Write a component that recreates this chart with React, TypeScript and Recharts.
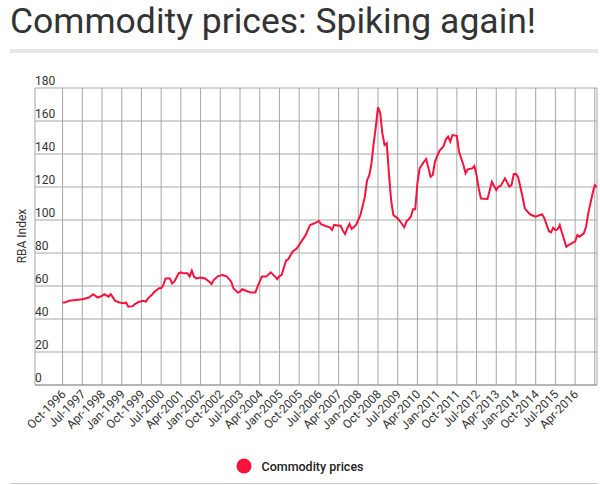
import { LineChart, Line, XAxis, YAxis, CartesianGrid, Legend } from 'recharts';

// months since Oct-1996
const monthIndex = [
  0, 1, 3, 6, 9, 12, 14, 16, 18, 19, 21, 22, 24, 26, 28, 29, 30, 32, 33, 35, 37, 38, 39, 41, 42, 44, 45,
  46, 47, 49, 50, 51, 53, 54, 55, 57, 58, 59, 60, 61, 63, 65, 67, 68, 69, 71, 73, 75, 77, 78, 80, 81, 82,
  84, 86, 88, 89, 91, 93, 95, 97, 98, 99, 100, 102, 103, 105, 107, 109, 111, 113, 115, 117, 118, 120, 122,
  123, 124, 127, 128, 129, 130, 131, 132, 134, 135, 136, 138, 139, 140, 141, 142, 143, 144, 145, 146, 147,
  148, 149, 150, 151, 153, 154, 156, 157, 159, 160, 161, 162, 163, 165, 166, 168, 169, 170, 172, 174, 175,
  176, 177, 178, 180, 181, 183, 184, 185, 187, 188, 189, 190, 191, 194, 196, 197, 198, 199, 200, 202, 204,
  205, 206, 207, 208, 210, 211, 213, 214, 216, 218, 219, 220, 222, 223, 224, 225, 226, 227, 228, 230, 231,
  233, 234, 235, 236, 238, 239, 240, 242, 243, 244,
];

const rbaIndex = [
  50, 50, 51, 51.5, 52, 53, 55, 53, 54, 55, 53.5, 55, 51, 50, 49.5, 50, 47.5, 47.8, 49, 50.5, 51, 50.5, 52.5, 55, 56.5, 58.6, 58.6,
  60.6, 64.6, 64.6, 61.6, 62.6, 67.7, 68.3, 67.7, 67.7, 65.7, 69.3, 65.7, 64.6, 65.2, 64.6, 62.6, 61.2, 63.6, 66, 66.7, 65.7, 62.6, 58.6, 56, 56.5, 58,
  57, 56, 56, 59.6, 65.7, 65.7, 68.3, 65.7, 64.2, 66, 66.7, 75.3, 76.2, 80.8, 82.8, 86.9, 90.9, 97, 98, 99.4, 97.4, 96.4, 95.6,
  94, 97, 96.4, 93.5, 91.5, 95, 97.6, 94.5, 97, 100, 103, 114, 124, 127, 134, 146, 156.5, 168.3, 165, 152.5, 145.5,
  146.5, 128.3, 112, 103, 101, 99.4, 95.6, 99, 102, 106.5, 106.5, 122.2, 131.3, 135.3, 137, 126.2, 127.3, 135.3, 141.8, 144.8, 148.9,
  150.5, 147.5, 151.5, 151, 141.4, 133.3, 128.3, 130.7, 131.3, 132.7, 127.3, 119, 113, 112.7, 123.2, 120.6, 118.2, 120.2, 120.6, 125.3, 120.2,
  121.2, 127.9, 127.9, 125.9, 114.1, 107.1, 104, 103, 102, 103, 103.4, 101, 93.3, 92.5, 95.3, 93.9, 94.3, 97, 92.3, 83.8, 84.8,
  86.3, 86.9, 90.9, 89.9, 91.9, 95.9, 104, 116.2, 121.2, 120,
];

const tickLabels = [
  'Oct-1996', 'Jul-1997', 'Apr-1998', 'Jan-1999', 'Oct-1999', 'Jul-2000', 'Apr-2001', 'Jan-2002', 'Oct-2002',
  'Jul-2003', 'Apr-2004', 'Jan-2005', 'Oct-2005', 'Jul-2006', 'Apr-2007', 'Jan-2008', 'Oct-2008', 'Jul-2009',
  'Apr-2010', 'Jan-2011', 'Oct-2011', 'Jul-2012', 'Apr-2013', 'Jan-2014', 'Oct-2014', 'Jul-2015', 'Apr-2016', '',
];

const yTicks = [0, 20, 40, 60, 80, 100, 120, 140, 160, 180];

const data = monthIndex.map((m, i) => ({ m, value: rbaIndex[i] }));
const xTicks = tickLabels.map((_, i) => i * 9);

const RED = '#f5123d';
const FONT = 'Roboto, sans-serif';

const XTick = ({ x, y, payload }: any) => {
  const tx = x + 4;
  const ty = y + 2;
  return (
    <text x={tx} y={ty} transform={`rotate(-45, ${tx}, ${ty})`} textAnchor="end" fontSize={12} fill="#333" fontFamily={FONT}>
      {tickLabels[Math.round(payload.value / 9)]}
    </text>
  );
};

const YTick = ({ y, payload }: any) => (
  <text x={35} y={y - 3} fontSize={12} fill="#333" fontFamily={FONT}>
    {payload.value}
  </text>
);

const LegendContent = () => (
  <div style={{ display: 'flex', alignItems: 'center', justifyContent: 'center', fontFamily: FONT }}>
    <svg width={16} height={16} style={{ marginRight: 9 }}>
      <circle cx={8} cy={8} r={7.5} fill={RED} />
    </svg>
    <span style={{ fontSize: 12.5, fontWeight: 500, color: '#222' }}>Commodity prices</span>
  </div>
);

export default function App() {
  return (
    <div style={{ position: 'absolute', left: 0, top: 0, width: 600, height: 485, background: '#fff', fontFamily: FONT }}>
      <div style={{ position: 'absolute', left: 10, top: 0, fontSize: 35.5, lineHeight: 'normal', fontWeight: 400, color: '#333', whiteSpace: 'nowrap' }}>
        Commodity prices: Spiking again!
      </div>
      <div style={{ position: 'absolute', left: 10, top: 49, width: 588, height: 4, background: '#e6e6e6' }} />
      <div
        style={{
          position: 'absolute', left: 22, top: 236, transform: 'translate(-50%, -50%) rotate(-90deg)',
          fontSize: 12, color: '#333', whiteSpace: 'nowrap',
        }}
      >
        RBA Index
      </div>
      <LineChart width={600} height={485} data={data} margin={{ top: 88, right: 3, bottom: 0, left: 8 }}>
        <CartesianGrid stroke="#a6a6a6" strokeWidth={1} />
        <XAxis
          dataKey="m"
          type="number"
          domain={[-12.6, 244]}
          ticks={xTicks}
          interval={0}
          height={100}
          tickLine={false}
          axisLine={{ stroke: '#999' }}
          tick={<XTick />}
          allowDataOverflow
        />
        <YAxis width={27} domain={[0, 180]} ticks={yTicks} interval={0} axisLine={false} tickLine={false} tick={<YTick />} />
        <Legend
          layout="horizontal"
          verticalAlign="middle"
          align="center"
          content={<LegendContent />}
          wrapperStyle={{ top: 458, left: 0, width: 600 }}
        />
        <Line
          type="linear"
          dataKey="value"
          name="Commodity prices"
          stroke={RED}
          strokeWidth={2}
          dot={false}
          isAnimationActive={false}
        />
      </LineChart>
      <div style={{ position: 'absolute', left: 10, top: 483, width: 588, height: 1, background: '#ccc' }} />
    </div>
  );
}
